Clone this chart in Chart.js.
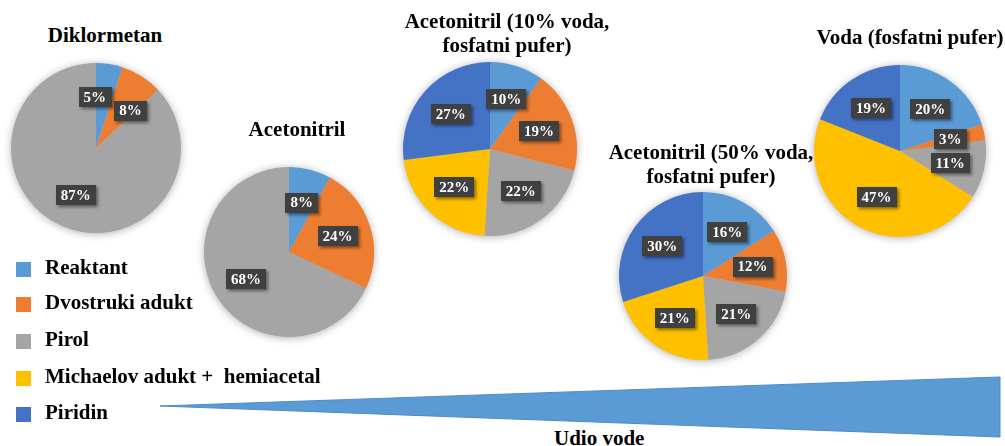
<!DOCTYPE html>
<html>
<head>
<meta charset="utf-8">
<script src="https://cdn.jsdelivr.net/npm/chart.js@4/dist/chart.umd.min.js"></script>
<style>
  body { margin: 0; background: #fff; }
  #stage { position: relative; width: 1005px; height: 446px; overflow: hidden; background: #fff; }
  .title, .legend-item, .axis-label {
    position: absolute;
    font-family: "Liberation Serif", "Times New Roman", serif;
    font-weight: bold;
    font-size: 21px;
    color: #000;
    white-space: pre;
  }
  .title { text-align: center; line-height: 24px; transform: translateX(-50%); }
  .pie { position: absolute; }
  .swatch { position: absolute; width: 15px; height: 15px; }
</style>
</head>
<body>
<div id="stage">
  <svg width="1005" height="446" style="position:absolute;left:0;top:0">
    <polygon points="160,406 1000,377 1000,437" fill="#5B9BD5" stroke="#4E8CC6" stroke-width="1"/>
  </svg>
  <div class="axis-label" style="left:554px;top:426px;line-height:24px">Udio vode</div>
</div>

<script>
const categories = ['Reaktant', 'Dvostruki adukt', 'Pirol', 'Michaelov adukt +  hemiacetal', 'Piridin']
const colors = ['#5B9BD5', '#ED7D31', '#A5A5A5', '#FFC000', '#4472C4']

const diklormetan = [5, 8, 87]
const acetonitril = [8, 24, 68]
const acetonitril10 = [10, 19, 22, 22, 27]
const acetonitril50 = [16, 12, 21, 21, 30]
const voda = [20, 3, 11, 47, 19]

// where each pie and its title sit on the page
let pies = [
  { title: 'Diklormetan', data: diklormetan, cx: 96, cy: 148, r: 85, tx: 105, ty: 23 },
  { title: 'Acetonitril', data: acetonitril, cx: 289, cy: 252, r: 85, tx: 297, ty: 117 },
  { title: 'Acetonitril (10% voda,\nfosfatni pufer)', data: acetonitril10, cx: 490, cy: 149, r: 87, tx: 507, ty: 9 },
  { title: 'Acetonitril (50% voda,\nfosfatni pufer)', data: acetonitril50, cx: 703, cy: 276, r: 84, tx: 711, ty: 140 },
  { title: 'Voda (fosfatni pufer)', data: voda, cx: 900, cy: 151, r: 86, tx: 910, ty: 25 },
]

const stage = document.getElementById('stage')
const pad = 14

// soft shadow under the whole pie
const pieShadow = {
  id: 'pieShadow',
  beforeDatasetsDraw(chart) {
    let arc = chart.getDatasetMeta(0).data[0]
    if (!arc) return
    let ctx = chart.ctx
    ctx.save()
    ctx.shadowColor = 'rgba(0,0,0,0.35)'
    ctx.shadowBlur = 9
    ctx.shadowOffsetY = 1
    ctx.fillStyle = '#bbb'
    ctx.beginPath()
    ctx.arc(arc.x, arc.y, arc.outerRadius - 0.5, 0, Math.PI * 2)
    ctx.fill()
    ctx.restore()
  },
}

function overlaps(a, b) {
  return Math.abs(a.x - b.x) < (a.w + b.w) / 2 + 3 && Math.abs(a.y - b.y) < a.h + 3
}

// dark percentage boxes inside the slices
const percentLabels = {
  id: 'percentLabels',
  afterDatasetsDraw(chart) {
    let ctx = chart.ctx
    let values = chart.data.datasets[0].data
    let arcs = chart.getDatasetMeta(0).data
    ctx.save()
    ctx.font = 'bold 15px "Liberation Serif", "Times New Roman", serif'

    let boxes = arcs.map(function (arc, i) {
      let text = values[i] + '%'
      return {
        arc: arc,
        text: text,
        angle: (arc.startAngle + arc.endAngle) / 2,
        w: ctx.measureText(text).width + 10,
        h: 20,
      }
    })
    function place(b) {
      let dist = b.arc.outerRadius * 0.6
      b.x = b.arc.x + Math.cos(b.angle) * dist
      b.y = b.arc.y + Math.sin(b.angle) * dist
    }
    boxes.forEach(place)

    // nudge neighbouring boxes apart around the circle when they collide
    for (let step = 0; step < 200; step++) {
      let moved = false
      for (let i = 0; i < boxes.length; i++) {
        let a = boxes[i]
        let b = boxes[(i + 1) % boxes.length]
        if (a === b || !overlaps(a, b)) continue
        a.angle -= 0.015
        b.angle += 0.015
        place(a)
        place(b)
        moved = true
      }
      if (!moved) break
    }

    boxes.forEach(function (b) {
      ctx.shadowColor = 'rgba(0,0,0,0.45)'
      ctx.shadowBlur = 3
      ctx.shadowOffsetX = 2
      ctx.shadowOffsetY = 2
      ctx.fillStyle = '#404040'
      ctx.fillRect(Math.round(b.x - b.w / 2), Math.round(b.y - b.h / 2), Math.round(b.w), b.h)
      ctx.shadowColor = 'transparent'
      ctx.fillStyle = '#fff'
      ctx.textAlign = 'center'
      ctx.textBaseline = 'middle'
      ctx.fillText(b.text, b.x, b.y + 1)
    })
    ctx.restore()
  },
}

pies.forEach(function (p) {
  let size = 2 * p.r + 2 * pad
  let box = document.createElement('div')
  box.className = 'pie'
  box.style.left = p.cx - p.r - pad + 'px'
  box.style.top = p.cy - p.r - pad + 'px'
  box.style.width = size + 'px'
  box.style.height = size + 'px'
  let canvas = document.createElement('canvas')
  box.appendChild(canvas)
  stage.appendChild(box)

  let title = document.createElement('div')
  title.className = 'title'
  title.style.left = p.tx + 'px'
  title.style.top = p.ty + 'px'
  title.textContent = p.title
  stage.appendChild(title)

  new Chart(canvas, {
    type: 'pie',
    data: {
      labels: categories.slice(0, p.data.length),
      datasets: [
        {
          data: p.data,
          backgroundColor: colors.slice(0, p.data.length),
          borderWidth: 0,
          hoverOffset: 0,
        },
      ],
    },
    options: {
      responsive: true,
      maintainAspectRatio: false,
      animation: false,
      layout: { padding: pad },
      events: [],
      plugins: {
        legend: { display: false },
        tooltip: { enabled: false },
      },
    },
    plugins: [pieShadow, percentLabels],
  })
})

// legend down the left side
let legendTops = [262, 297, 334, 371, 407]
categories.forEach(function (name, i) {
  let sw = document.createElement('div')
  sw.className = 'swatch'
  sw.style.left = '16px'
  sw.style.top = legendTops[i] + 'px'
  sw.style.background = colors[i]
  stage.appendChild(sw)

  let label = document.createElement('div')
  label.className = 'legend-item'
  label.style.left = '45px'
  label.style.top = legendTops[i] - 7 + 'px'
  label.style.lineHeight = '24px'
  label.textContent = name
  stage.appendChild(label)
})
</script>
</body>
</html>
